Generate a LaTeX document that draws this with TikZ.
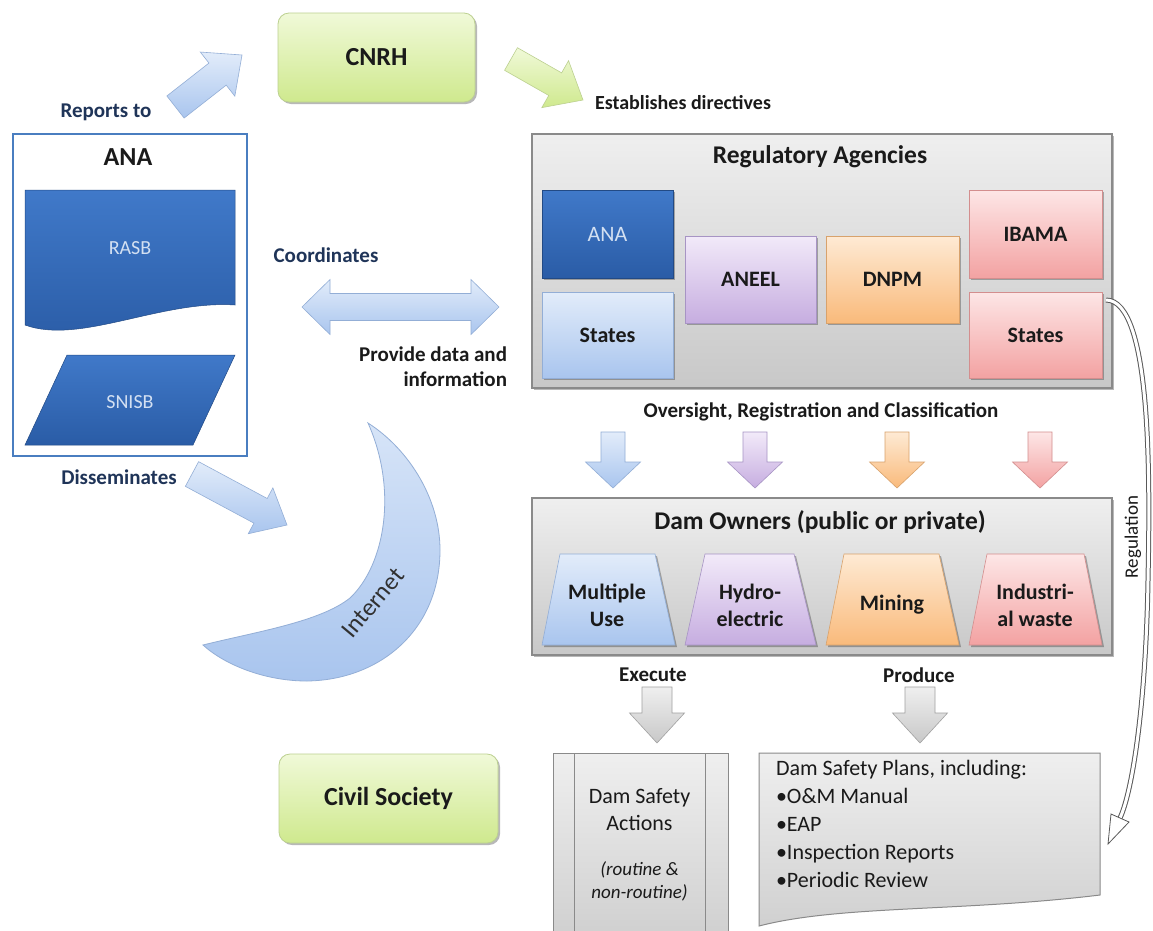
\documentclass[tikz,border=0pt]{standalone}
\usepackage{fontspec}
\setmainfont{Carlito}
\usetikzlibrary{calc,shadows}
\definecolor{gA}{HTML}{F0F9D8}
\definecolor{gB}{HTML}{CFE98E}
\definecolor{gBorder}{HTML}{BCD090}
\definecolor{lbA}{HTML}{E2ECFA}
\definecolor{lbB}{HTML}{A9C5EE}
\definecolor{lbBorder}{HTML}{93AED6}
\definecolor{dbA}{HTML}{4079C9}
\definecolor{dbB}{HTML}{2A5CA6}
\definecolor{dbText}{HTML}{D3E0F2}
\definecolor{anaBorder}{HTML}{4A7EC0}
\definecolor{puA}{HTML}{F2EAF9}
\definecolor{puB}{HTML}{C6ADE0}
\definecolor{puBorder}{HTML}{A794C4}
\definecolor{orA}{HTML}{FEEAD4}
\definecolor{orB}{HTML}{F9BA7B}
\definecolor{orBorder}{HTML}{D8A26C}
\definecolor{pkA}{HTML}{FDE6E6}
\definecolor{pkB}{HTML}{F3A2A2}
\definecolor{pkBorder}{HTML}{D38E8E}
\definecolor{grA}{HTML}{EFEFEF}
\definecolor{grB}{HTML}{C8C8C8}
\definecolor{grBorder}{HTML}{8A8A8A}
\definecolor{navy}{HTML}{1F3458}
\definecolor{ink}{HTML}{1A1A1A}
\newcommand{\blockarr}[6]{%
  \coordinate (ba-h) at ($(#3)!#6!(#2)$);
  \path[#1] ($(#2)!#4!90:(#3)$) -- ($(ba-h)!#4!90:(#3)$) -- ($(ba-h)!#5!90:(#3)$) -- (#3)
    -- ($(ba-h)!#5!-90:(#3)$) -- ($(ba-h)!#4!-90:(#3)$) -- ($(#2)!#4!-90:(#3)$) -- cycle;}
\begin{document}
\begin{tikzpicture}[x=1pt,y=-1pt,
  every node/.style={inner sep=0pt, outer sep=0pt},
  lbl/.style={font=\bfseries\fontsize{21}{25}\selectfont, text=ink},
  navylbl/.style={lbl, text=navy},
  ttl/.style={font=\bfseries\fontsize{25.5}{30}\selectfont, text=ink},
  subtxt/.style={font=\bfseries\fontsize{22}{27}\selectfont, text=ink, align=center},
  smalltxt/.style={font=\fontsize{22}{27}\selectfont, text=ink},
  shadowed/.style={drop shadow={shadow xshift=2pt, shadow yshift=-2pt, opacity=0.28, fill=black}},
  greenbox/.style={draw=gBorder, line width=0.8pt, rounded corners=11pt, top color=gA, bottom color=gB, shadowed},
  graybox/.style={draw=grBorder, line width=1.2pt, top color=grA, bottom color=grB, shadowed},
  docbox/.style={draw=grBorder, line width=1pt, top color=grA, bottom color=grB!85!white},
  darkblue/.style={draw=dbB!80!black, line width=0.5pt, top color=dbA, bottom color=dbB},
  bluefill/.style={draw=lbBorder, line width=0.6pt, top color=lbA, bottom color=lbB},
  purplefill/.style={draw=puBorder, line width=0.6pt, top color=puA, bottom color=puB},
  orangefill/.style={draw=orBorder, line width=0.6pt, top color=orA, bottom color=orB},
  pinkfill/.style={draw=pkBorder, line width=0.6pt, top color=pkA, bottom color=pkB},
  greenfill/.style={draw=gBorder, line width=0.6pt, top color=gA, bottom color=gB},
  grayfill/.style={draw=grBorder!80, line width=0.6pt, top color=grA, bottom color=grB},
  subbox/.style={shadowed, line width=0.6pt}
]
\useasboundingbox (0,0) rectangle (1153,930);
\fill[white] (0,0) rectangle (1153,930);

% ---------- CNRH ----------
\node[greenbox, minimum width=197pt, minimum height=89pt, font=\bfseries\fontsize{26}{30}\selectfont, text=ink] (cnrh) at (376.5,57.5) {CNRH};

% ---------- Reports to ----------
\node[navylbl] (reptxt) at (106,112) {Reports to};
\coordinate (rep-tail) at (175.5,107);
\coordinate (rep-tip) at (242,55);
\blockarr{bluefill}{rep-tail}{rep-tip}{14pt}{28pt}{31pt}

% ---------- ANA box ----------
\node[draw=anaBorder, line width=2.5pt, fill=white, minimum width=234pt, minimum height=322pt] (anabox) at (130,295) {};
\node[font=\bfseries\fontsize{26}{30}\selectfont, text=ink] (anatitle) at (128,157) {ANA};
\path[darkblue] (25,190) -- (235,190) -- (235,305) .. controls (160,300) and (80,345) .. (25,325) -- cycle;
\node[font=\fontsize{20}{24}\selectfont, text=dbText] (rasb) at (130,248) {RASB};
\path[darkblue] (67,355) -- (235,355) -- (193,445) -- (25,445) -- cycle;
\node[font=\fontsize{20}{24}\selectfont, text=dbText] (snisb) at (130,402) {SNISB};

% ---------- Coordinates ----------
\node[navylbl] (coordtxt) at (326,255) {Coordinates};
\coordinate (dbl-l) at (302,307);
\coordinate (dbl-r) at (499,307);
\path[bluefill] (dbl-l) -- ($(dbl-l)+(28,-27.5)$) -- ($(dbl-l)+(28,-13.5)$) -- ($(dbl-r)+(-28,-13.5)$)
  -- ($(dbl-r)+(-28,-27.5)$) -- (dbl-r) -- ($(dbl-r)+(-28,27.5)$) -- ($(dbl-r)+(-28,13.5)$)
  -- ($(dbl-l)+(28,13.5)$) -- ($(dbl-l)+(28,27.5)$) -- cycle;
\node[lbl, anchor=base east] (prov1) at (507,361.5) {Provide data and};
\node[lbl, anchor=base east] (prov2) at (507,386.5) {information};

% ---------- Disseminates / Internet ----------
\node[navylbl] (distxt) at (119,477) {Disseminates};
\coordinate (dis-tail) at (192,474);
\coordinate (dis-tip) at (287,525);
\blockarr{bluefill}{dis-tail}{dis-tip}{14pt}{26pt}{30pt}
\path[draw=lbBorder, line width=0.8pt, top color=lbA!80!lbB, bottom color=lbB]
  (368,423) .. controls (410,450) and (440,500) .. (440,550)
  .. controls (440,630) and (380,680) .. (307,681)
  .. controls (265,681) and (225,665) .. (203,645)
  .. controls (255,632) and (320,622) .. (350,598)
  .. controls (385,565) and (398,490) .. (368,423) -- cycle;
\node[font=\fontsize{25}{30}\selectfont, text=ink!90, rotate=50] (internet) at (373,603) {Internet};

% ---------- Civil Society ----------
\node[greenbox, minimum width=219pt, minimum height=89pt, font=\bfseries\fontsize{26}{30}\selectfont, text=ink] (civil) at (388.5,798.5) {Civil Society};

% ---------- Establishes directives ----------
\coordinate (est-tail) at (511,59);
\coordinate (est-tip) at (583,100);
\blockarr{greenfill}{est-tail}{est-tip}{13pt}{27pt}{32pt}
\node[lbl, anchor=west, font=\bfseries\fontsize{20}{24}\selectfont] (esttxt) at (595,103) {Establishes directives};

% ---------- Regulatory Agencies ----------
\node[graybox, minimum width=580pt, minimum height=254pt] (regbox) at (822,261) {};
\node[ttl] (regtitle) at (820,157) {Regulatory Agencies};
\node[darkblue, subbox, minimum width=131pt, minimum height=88pt, font=\fontsize{22}{26}\selectfont, text=dbText] (ana2) at (607.5,234) {ANA};
\node[bluefill, subbox, minimum width=131pt, minimum height=86pt, subtxt] (statesb) at (607.5,335) {States};
\node[purplefill, subbox, minimum width=131pt, minimum height=87pt, subtxt] (aneel) at (750.5,279.5) {ANEEL};
\node[orangefill, subbox, minimum width=133pt, minimum height=87pt, subtxt] (dnpm) at (892.5,279.5) {DNPM};
\node[pinkfill, subbox, minimum width=133pt, minimum height=88pt, subtxt] (ibama) at (1035.5,234) {IBAMA};
\node[pinkfill, subbox, minimum width=133pt, minimum height=86pt, subtxt] (statesp) at (1035.5,335) {States};

% ---------- Oversight ----------
\node[lbl] (overtxt) at (821,412) {Oversight, Registration and Classification};
\coordinate (da1-top) at (613,432); \coordinate (da1-tip) at (613,488);
\coordinate (da2-top) at (755,432); \coordinate (da2-tip) at (755,488);
\coordinate (da3-top) at (897,432); \coordinate (da3-tip) at (897,488);
\coordinate (da4-top) at (1040,432); \coordinate (da4-tip) at (1040,488);
\blockarr{bluefill}{da1-top}{da1-tip}{12pt}{27.5pt}{26pt}
\blockarr{purplefill}{da2-top}{da2-tip}{12pt}{27.5pt}{26pt}
\blockarr{orangefill}{da3-top}{da3-tip}{12pt}{27.5pt}{26pt}
\blockarr{pinkfill}{da4-top}{da4-tip}{12pt}{27.5pt}{26pt}

% ---------- Dam Owners ----------
\node[graybox, minimum width=580pt, minimum height=157pt] (ownbox) at (822,576.5) {};
\node[ttl] (owntitle) at (820,522) {Dam Owners (public or private)};
\path[bluefill, shadowed] (542,645) -- (560,554) -- (655,554) -- (675,645) -- cycle;
\path[purplefill, shadowed] (685,645) -- (705,554) -- (794,554) -- (816,645) -- cycle;
\path[orangefill, shadowed] (826,645) -- (844,554) -- (939,554) -- (959,645) -- cycle;
\path[pinkfill, shadowed] (969,645) -- (987,554) -- (1084,554) -- (1102,645) -- cycle;
\node[subtxt] (mu) at (607,605) {Multiple\\Use};
\node[subtxt] (hydro) at (750,605) {Hydro-\\electric};
\node[subtxt] (mining) at (892,605) {Mining};
\node[subtxt] (indus) at (1035,605) {Industri-\\al waste};

% ---------- Execute / Produce ----------
\node[lbl] (exetxt) at (653,675) {Execute};
\node[lbl] (prodtxt) at (919,675) {Produce};
\coordinate (ga1-top) at (657,687); \coordinate (ga1-tip) at (657,743);
\coordinate (ga2-top) at (920,687); \coordinate (ga2-tip) at (920,743);
\blockarr{grayfill}{ga1-top}{ga1-tip}{15pt}{27.5pt}{30pt}
\blockarr{grayfill}{ga2-top}{ga2-tip}{15pt}{27.5pt}{30pt}

% ---------- Dam Safety Actions ----------
\node[docbox, anchor=north west, minimum width=175pt, minimum height=180pt] (dsa) at (553,753) {};
\draw[grBorder, line width=1pt] ($(dsa.north west)+(21,0)$) -- ($(dsa.south west)+(21,0)$);
\draw[grBorder, line width=1pt] ($(dsa.north east)+(-23,0)$) -- ($(dsa.south east)+(-23,0)$);
\node[smalltxt] (dsa1) at (639.5,798) {Dam Safety};
\node[smalltxt] (dsa2) at (639.5,823) {Actions};
\node[font=\itshape\fontsize{19}{23}\selectfont, text=ink] (dsa3) at (639.5,870) {(routine \&};
\node[font=\itshape\fontsize{19}{23}\selectfont, text=ink] (dsa4) at (639.5,893) {non-routine)};

% ---------- Dam Safety Plans ----------
\path[docbox] (759,753) -- (1100,753) -- (1100,895) .. controls (960,912) and (840,905) .. (759,926) -- cycle;
\node[smalltxt, anchor=base west] (dsp1) at (776,775) {Dam Safety Plans, including:};
\node[smalltxt, anchor=base west] (dsp2) at (776,803) {\textbullet O\&M Manual};
\node[smalltxt, anchor=base west] (dsp3) at (776,831) {\textbullet EAP};
\node[smalltxt, anchor=base west] (dsp4) at (776,859) {\textbullet Inspection Reports};
\node[smalltxt, anchor=base west] (dsp5) at (776,887) {\textbullet Periodic Review};

% ---------- Regulation ----------
\coordinate (reg-start) at (1106,300);
\coordinate (reg-end) at (1120,818);
\draw[black!65, line width=5pt] (reg-start) .. controls (1152,300) and (1150,480) .. (1148,580)
  .. controls (1146,700) and (1133,790) .. (reg-end);
\draw[white, line width=3pt] (reg-start) .. controls (1152,300) and (1150,480) .. (1148,580)
  .. controls (1146,700) and (1133,790) .. (reg-end);
\coordinate (reg-tip) at (1108,844);
\path[draw=black!65, line width=0.8pt, fill=white] (1129,822) -- (reg-tip) -- (1111,814) -- cycle;
\node[font=\fontsize{19}{23}\selectfont, text=ink, rotate=90] (regtxt) at (1133,537) {Regulation};
\end{tikzpicture}
\end{document}
